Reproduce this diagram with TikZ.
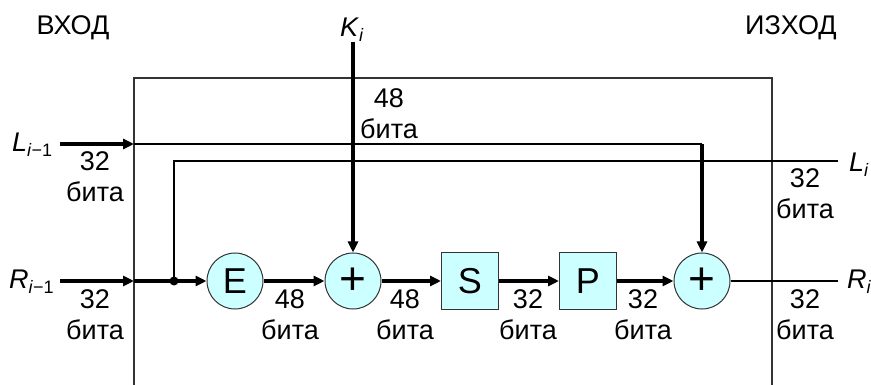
\documentclass[tikz,border=0pt]{standalone}
\usepackage{fontspec}
\setmainfont{Liberation Sans}
\usetikzlibrary{arrows.meta}
\definecolor{blockfill}{HTML}{CCFFFF}
\definecolor{frame}{HTML}{333333}
% lowered index for the block variables
\newcommand\lowidx[1]{\raisebox{-5pt}{\fontsize{18}{18}\selectfont #1}}

\begin{document}
\begin{tikzpicture}[x=1pt,y=-1pt,
  lbl/.style={font=\fontsize{27}{31}\selectfont, inner sep=0pt},
  bits/.style={lbl, align=center, anchor=north},
  op/.style={circle, draw=frame, line width=1pt, fill=blockfill,
    minimum size=56pt, inner sep=0pt, font=\fontsize{36}{36}\selectfont},
  xorop/.style={op, font=\fontsize{46}{46}\selectfont},
  blk/.style={rectangle, draw=frame, line width=1pt, fill=blockfill,
    minimum size=57pt, inner sep=0pt, font=\fontsize{36}{36}\selectfont},
  bus/.style={line width=3.2pt},
  wire/.style={line width=1.5pt},
  tip/.style={-{Triangle[length=11pt,width=10pt]}},
]
\useasboundingbox (0,0) rectangle (871,385);

% round frame, open at the bottom
\draw[frame, line width=1.5pt] (134,385) -- (134,78) -- (772,78) -- (772,385);

% function blocks
\node[op]    (E)     at (235,281) {E};
\node[xorop] (plus1) at (353,281) {+};
\node[blk]   (S)     at (470,281) {S};
\node[blk]   (P)     at (588,281) {P};
\node[xorop] (plus2) at (702,281) {+};

% terminals
\coordinate (Lin)  at (60,144);
\coordinate (Lent) at (134,144);
\coordinate (Rin)  at (60,281);
\coordinate (Rent) at (134,281);
\coordinate (tap)  at (174,281);
\coordinate (Lout) at (838,161);
\coordinate (Rout) at (838,281);
\coordinate (Ktop) at (353,42);

% left half
\draw[bus,tip] (Lin) -- (Lent);
\draw[wire] (Lent) -- (plus2 |- Lent);
\draw[bus,tip] (plus2 |- Lent) -- (plus2);

% right half and round function
\draw[bus,tip] (Rin) -- (Rent);
\draw[bus,tip] (Rent) -- (E);
\draw[wire] (tap) |- (Lout);
\fill (tap) circle (4.5pt);
\draw[bus,tip] (Ktop) -- (plus1);
\draw[bus,tip] (E) -- (plus1);
\draw[bus,tip] (plus1) -- (S);
\draw[bus,tip] (S) -- (P);
\draw[bus,tip] (P) -- (plus2);
\draw[wire] (plus2) -- (Rout);

% headings and variables
\node[lbl, anchor=base] (inlbl)  at (73,35)  {ВХОД};
\node[lbl, anchor=base] (outlbl) at (791,35) {ИЗХОД};
\node[lbl, anchor=base west] (Klbl)  at (340,37)  {\textit{K}\lowidx{\textit{i}}};
\node[lbl, anchor=base west] (Llbl)  at (12,152)  {\textit{L}\lowidx{\textit{i}−1}};
\node[lbl, anchor=base west] (Rlbl)  at (9,288)   {\textit{R}\lowidx{\textit{i}−1}};
\node[lbl, anchor=base west] (Lolbl) at (849,172) {\textit{L}\lowidx{\textit{i}}};
\node[lbl, anchor=base west] (Rolbl) at (847,288) {\textit{R}\lowidx{\textit{i}}};

% word widths
\node[bits] (wK)  at (389,88)  {48\\бита};
\node[bits] (wL)  at (95,151)  {32\\бита};
\node[bits] (wLo) at (805,168) {32\\бита};
\node[bits] (wR)  at (95,289)  {32\\бита};
\node[bits] (wE)  at (290,289) {48\\бита};
\node[bits] (wX)  at (405,289) {48\\бита};
\node[bits] (wS)  at (528,289) {32\\бита};
\node[bits] (wP)  at (643,289) {32\\бита};
\node[bits] (wRo) at (805,289) {32\\бита};
\end{tikzpicture}
\end{document}
